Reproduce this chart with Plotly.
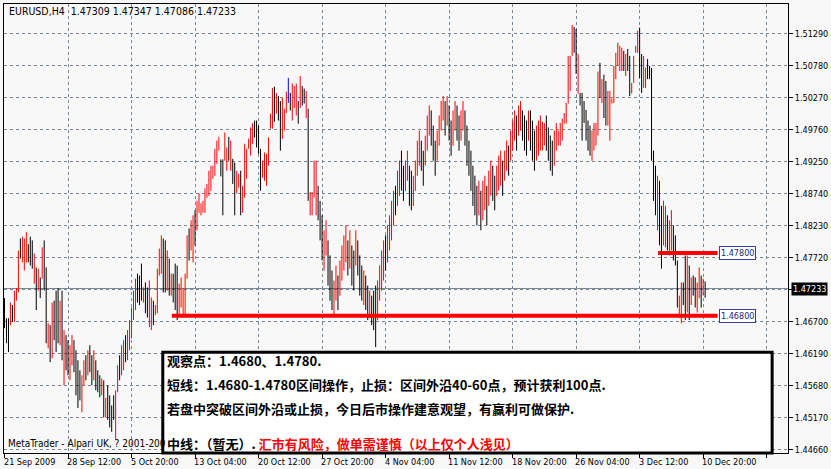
import plotly.graph_objects as go

# ---------------- data (EURUSD H4, one bar per 4h, index 0 = 21 Sep 2009 00:00) ----------------
highs = [
1.4708,1.4676,1.4676,1.4701,1.4697,1.4720,1.4724,1.4784,1.4803,1.4806,
1.4803,1.4813,1.4794,1.4806,1.4800,1.4779,1.4757,1.4755,1.4741,1.4789,
1.4800,1.4757,1.4668,1.4665,1.4701,1.4704,1.4720,1.4724,1.4704,1.4720,
1.4657,1.4649,1.4641,1.4633,1.4649,1.4641,1.4625,1.4609,1.4593,1.4585,
1.4609,1.4617,1.4625,1.4633,1.4617,1.4625,1.4609,1.4593,1.4585,1.4580,
1.4577,1.4549,1.4569,1.4553,1.4537,1.4553,1.4561,1.4601,1.4617,1.4633,
1.4641,1.4649,1.4657,1.4673,1.4693,1.4720,1.4739,1.4747,1.4744,1.4763,
1.4725,1.4733,1.4725,1.4736,1.4709,1.4704,1.4697,1.4755,1.4787,1.4808,
1.4803,1.4800,1.4784,1.4771,1.4747,1.4747,1.4763,1.4760,1.4731,1.4741,
1.4724,1.4747,1.4808,1.4819,1.4832,1.4840,1.4848,1.4863,1.4875,1.4859,
1.4863,1.4883,1.4890,1.4911,1.4919,1.4919,1.4946,1.4959,1.4965,1.4929,
1.4929,1.4972,1.4948,1.4965,1.4959,1.4930,1.4924,1.4911,1.4906,1.4911,
1.4887,1.4954,1.4946,1.4962,1.4980,1.4987,1.4991,1.4991,1.4983,1.4946,
1.4927,1.4940,1.4938,1.4964,1.5002,1.5043,1.5045,1.5035,1.5030,1.5022,
1.5027,1.5010,1.5037,1.5059,1.5035,1.5050,1.5046,1.5050,1.5022,1.5062,
1.5046,1.5042,1.5038,1.5010,1.4877,1.4877,1.4927,1.4927,1.4887,1.4863,
1.4840,1.4816,1.4832,1.4800,1.4776,1.4752,1.4736,1.4760,1.4744,1.4768,
1.4792,1.4808,1.4824,1.4800,1.4816,1.4792,1.4784,1.4816,1.4800,1.4776,
1.4760,1.4752,1.4744,1.4728,1.4720,1.4712,1.4720,1.4728,1.4736,1.4760,
1.4784,1.4800,1.4808,1.4824,1.4840,1.4863,1.4879,1.4887,1.4911,1.4927,
1.4943,1.4919,1.4927,1.4943,1.4919,1.4911,1.4903,1.4927,1.4959,1.4975,
1.4959,1.4943,1.4967,1.4999,1.5015,1.5007,1.4983,1.4959,1.4975,1.4999,
1.5022,1.5030,1.5022,1.5030,1.5015,1.4991,1.5007,1.5022,1.5015,1.4999,
1.5007,1.5022,1.5007,1.4983,1.4959,1.4943,1.4919,1.4903,1.4887,1.4895,
1.4879,1.4895,1.4903,1.4887,1.4911,1.4927,1.4919,1.4903,1.4919,1.4935,
1.4943,1.4927,1.4943,1.4959,1.4951,1.4975,1.4991,1.5007,1.4999,1.5015,
1.5022,1.5007,1.4999,1.4991,1.5007,1.5007,1.4991,1.4975,1.4983,1.4991,
1.4999,1.4989,1.4987,1.4999,1.4980,1.4967,1.4959,1.4975,1.4987,1.4975,
1.4987,1.4994,1.5003,1.5019,1.5094,1.5094,1.5143,1.5140,1.5137,1.5097,
1.5035,1.5035,1.5022,1.5008,1.4991,1.4983,1.4975,1.4987,1.4987,1.5069,
1.5083,1.5057,1.5064,1.5054,1.5038,1.5038,1.5026,1.5078,1.5099,1.5115,
1.5110,1.5107,1.5102,1.5097,1.5105,1.5094,1.5051,1.5094,1.5110,1.5134,
1.5139,1.5097,1.5094,1.5075,1.5089,1.5078,1.5075,1.4943,1.4919,1.4903,
1.4895,1.4855,1.4863,1.4855,1.4840,1.4832,1.4848,1.4824,1.4808,1.4768,
1.4712,1.4733,1.4733,1.4776,1.4776,1.4760,1.4741,1.4744,1.4741,1.4733,
1.4757,1.4744,1.4739,1.47347]

lows = [
1.4660,1.4636,1.4622,1.4665,1.4670,1.4670,1.4704,1.4717,1.4771,1.4765,
1.4752,1.4765,1.4765,1.4760,1.4755,1.4731,1.4689,1.4720,1.4708,1.4739,
1.4720,1.4636,1.4628,1.4606,1.4612,1.4641,1.4622,1.4636,1.4633,1.4609,
1.4569,1.4593,1.4585,1.4577,1.4601,1.4590,1.4553,1.4533,1.4545,1.4526,
1.4569,1.4577,1.4585,1.4590,1.4569,1.4577,1.4561,1.4558,1.4550,1.4553,
1.4518,1.4518,1.4514,1.4502,1.4495,1.4514,1.4482,1.4558,1.4577,1.4585,
1.4593,1.4606,1.4609,1.4625,1.4644,1.4673,1.4689,1.4701,1.4697,1.4704,
1.4701,1.4684,1.4677,1.4662,1.4657,1.4665,1.4681,1.4684,1.4744,1.4747,
1.4717,1.4717,1.4720,1.4712,1.4712,1.4701,1.4689,1.4673,1.4677,1.4693,
1.4681,1.4681,1.4739,1.4768,1.4784,1.4765,1.4792,1.4816,1.4844,1.4840,
1.4844,1.4844,1.4868,1.4871,1.4879,1.4898,1.4903,1.4922,1.4943,1.4902,
1.4840,1.4927,1.4911,1.4927,1.4911,1.4890,1.4840,1.4875,1.4884,1.4840,
1.4844,1.4868,1.4898,1.4946,1.4935,1.4954,1.4964,1.4948,1.4938,1.4879,
1.4900,1.4895,1.4887,1.4919,1.4978,1.4978,1.4989,1.5002,1.4991,1.4943,
1.4962,1.4975,1.5003,1.5019,1.5007,1.4991,1.5011,1.4999,1.4986,1.5011,
1.5015,1.5018,1.4995,1.4863,1.4840,1.4840,1.4868,1.4840,1.4832,1.4800,
1.4768,1.4752,1.4776,1.4728,1.4704,1.4689,1.4681,1.4704,1.4689,1.4712,
1.4736,1.4752,1.4765,1.4744,1.4755,1.4728,1.4720,1.4760,1.4744,1.4712,
1.4704,1.4697,1.4689,1.4673,1.4676,1.4665,1.4657,1.4630,1.4673,1.4704,
1.4720,1.4736,1.4752,1.4765,1.4784,1.4800,1.4824,1.4840,1.4855,1.4871,
1.4879,1.4863,1.4879,1.4895,1.4855,1.4848,1.4855,1.4879,1.4903,1.4919,
1.4911,1.4887,1.4919,1.4943,1.4967,1.4951,1.4927,1.4903,1.4927,1.4951,
1.4975,1.4991,1.4967,1.4983,1.4959,1.4935,1.4951,1.4975,1.4959,1.4943,
1.4959,1.4975,1.4951,1.4919,1.4903,1.4879,1.4855,1.4840,1.4824,1.4840,
1.4816,1.4832,1.4848,1.4824,1.4855,1.4871,1.4863,1.4848,1.4871,1.4879,
1.4887,1.4871,1.4895,1.4911,1.4903,1.4927,1.4943,1.4959,1.4943,1.4967,
1.4975,1.4959,1.4943,1.4935,1.4959,1.4943,1.4927,1.4911,1.4927,1.4935,
1.4943,1.4943,1.4951,1.4943,1.4927,1.4911,1.4903,1.4919,1.4943,1.4951,
1.4951,1.4959,1.4986,1.4986,1.5018,1.5038,1.5094,1.5099,1.5065,1.5034,
1.5015,1.4959,1.4987,1.4959,1.4943,1.4935,1.4927,1.4943,1.4951,1.4967,
1.5027,1.5019,1.4995,1.4983,1.4983,1.4959,1.5018,1.5019,1.5057,1.5078,
1.5070,1.5070,1.5070,1.5062,1.5070,1.5030,1.5034,1.5051,1.5099,1.5099,
1.5059,1.5035,1.5043,1.5043,1.5057,1.5057,1.4927,1.4863,1.4840,1.4816,
1.4792,1.4755,1.4792,1.4789,1.4784,1.4776,1.4784,1.4768,1.4760,1.4693,
1.4677,1.4668,1.4697,1.4673,1.4685,1.4673,1.4697,1.4712,1.4693,1.4685,
1.4708,1.4693,1.4712,1.47086]

# 1 = up bar (red), 0 = down bar (black), 2 = highlighted bar (blue)
directions = [
0,0,0,1,0,1,1,1,0,1, 1,1,0,0,0,1,0,1,0,1, 0,0,1,0,1,0,0,0,1,0,
1,0,0,1,1,0,0,0,0,1, 1,0,1,0,0,1,0,0,0,1, 0,1,0,0,0,0,1,1,0,1,
1,0,1,1,1,1,1,0,0,0, 1,0,0,1,1,0,1,1,1,1, 0,0,1,0,1,0,0,0,1,1,
1,1,1,0,1,1,0,1,1,1, 1,1,1,1,1,1,1,1,1,0, 0,1,1,0,1,0,0,1,1,0,
1,1,1,1,1,1,0,0,0,0, 1,1,1,1,1,1,0,1,0,0, 1,1,1,2,0,1,1,1,0,1,
0,0,1,0,1,1,1,1,0,0, 0,1,1,0,0,0,1,1,0,1, 1,1,1,0,1,0,0,1,0,0,
0,1,0,0,1,0,0,0,1,1, 1,1,0,1,1,1,1,0,1,1, 0,0,1,1,0,0,1,1,1,1,
0,0,1,1,1,0,0,0,1,1, 1,1,0,1,0,0,1,1,0,0, 1,1,0,0,0,0,0,0,0,1,
0,1,1,0,1,1,0,0,1,1, 1,0,1,1,0,1,1,1,0,1, 1,0,0,0,1,0,0,0,1,1,
1,1,1,0,0,0,0,1,1,1, 1,1,1,1,1,1,1,0,0,1, 0,0,0,0,0,0,1,1,1,1,
0,1,0,0,1,1,1,1,1,1, 1,1,0,1,0,0,1,1,1,1, 0,0,1,1,0,0,0,0,0,1,
0,0,1,1,0,1,1,0,0,0, 1,1,0,0,1,0,1,0,0,1, 1,0,1,0]

x_tick_index = [0, 32, 64, 96, 128, 160, 192, 224, 256, 288, 320, 352]
x_tick_labels = ["21 Sep 2009", "28 Sep 12:00", "5 Oct 20:00", "13 Oct 04:00",
                 "20 Oct 12:00", "27 Oct 20:00", "4 Nov 04:00", "11 Nov 12:00",
                 "18 Nov 20:00", "26 Nov 04:00", "3 Dec 12:00", "10 Dec 20:00"]
x_grid_index = [0, 32, 64, 96, 128, 160, 192, 224, 256, 288, 320, 352, 384]
y_tick_values = [1.44660, 1.45170, 1.45680, 1.46190, 1.46700, 1.47210, 1.47720,
                 1.48230, 1.48740, 1.49250, 1.49760, 1.50270, 1.50780, 1.51290]

last_ohlc = [1.47309, 1.47347, 1.47086, 1.47233]
levels = [1.4780, 1.4680]
level_start = [329.3, 84.3]
level_end = [359.3, 359.3]

text_lines = [
    "观察点：1.4680、1.4780.",
    "短线：1.4680-1.4780区间操作，止损：区间外沿40-60点，预计获利100点.",
    "若盘中突破区间外沿或止损，今日后市操作建意观望，有赢利可做保护.",
]
text_last_black = "中线：（暂无）."
text_last_red = "汇市有风险，做单需谨慎（以上仅个人浅见）"

# ---------------- figure ----------------
colors = {0: "#000000", 1: "#FF0000", 2: "#0000FF"}
fig = go.Figure()
for d in (0, 1, 2):
    xs, ys = [], []
    for i, (h, l, dd) in enumerate(zip(highs, lows, directions)):
        if dd == d:
            xs += [i, i, None]
            ys += [l, h, None]
    fig.add_trace(go.Scatter(x=xs, y=ys, mode="lines",
                             line=dict(color=colors[d], width=1),
                             hoverinfo="skip", showlegend=False))

GRID = "#778899"
SMALL = "DejaVu Sans Condensed, Liberation Sans, Arial"
TICKFONT = dict(family=SMALL, size=9, color="#000000")

fig.update_layout(
    width=831, height=469,
    margin=dict(l=3, r=38, t=3, b=16),
    paper_bgcolor="#F8F8F8", plot_bgcolor="#F8F8F8",
    showlegend=False, hovermode=False,
    xaxis=dict(range=[-0.25, 394.75], tickvals=x_grid_index,
               ticktext=[""] * len(x_grid_index),
               showgrid=True, gridcolor=GRID, griddash="3px,3px", gridwidth=1,
               zeroline=False, showline=True, linecolor="#000000", linewidth=1,
               mirror=True, ticks="outside", ticklen=4, tickcolor="#000000",
               fixedrange=True),
    yaxis=dict(range=[1.44612, 1.51767], side="right", tickvals=y_tick_values,
               ticktext=["%.5f" % v if abs(v - 1.4721) > 1e-6 else "" for v in y_tick_values],
               showgrid=True, gridcolor=GRID, griddash="3px,3px", gridwidth=1,
               zeroline=False, showline=True, linecolor="#000000", linewidth=1,
               mirror=True, ticks="outside", ticklen=4, tickcolor="#000000",
               tickfont=TICKFONT, fixedrange=True),
)

# current price line
fig.add_shape(type="line", xref="paper", x0=0, x1=1, yref="y",
              y0=last_ohlc[3], y1=last_ohlc[3],
              line=dict(color=GRID, width=1), layer="below")

# horizontal level lines
for lv, xs0, xs1 in zip(levels, level_start, level_end):
    fig.add_shape(type="line", xref="x", yref="y", x0=xs0, x1=xs1, y0=lv, y1=lv,
                  line=dict(color="#FF0000", width=4), layer="above")
    fig.add_annotation(x=xs1, y=lv, xref="x", yref="y", xanchor="left",
                       yanchor="middle", xshift=1, text="%.5f" % lv, showarrow=False,
                       font=dict(family=SMALL, size=9, color="#1E1E78"),
                       bgcolor="#FFFFFF", bordercolor="#3C3C96", borderwidth=1,
                       borderpad=1)

# text box
fig.add_shape(type="rect", xref="paper", yref="paper",
              x0=(163 - 3) / 790, x1=(777 - 3) / 790, y0=0.0, y1=1 - (352 - 3) / 450,
              line=dict(color="#000000", width=3), fillcolor="#FFFFFF", layer="above")

CJK = "Noto Sans CJK SC, Noto Sans CJK JP, sans-serif"
line_y = [360, 384, 408, 443]
for txt, yy in zip(text_lines, line_y[:3]):
    fig.add_annotation(xref="paper", yref="paper", x=(165 - 3) / 790,
                       y=1 - (yy - 3) / 450, xanchor="left", yanchor="middle",
                       text="<b>%s</b>" % txt, showarrow=False,
                       font=dict(family=CJK, size=13, color="#000000"))
fig.add_annotation(xref="paper", yref="paper", x=(165 - 3) / 790,
                   y=1 - (line_y[3] - 3) / 450, xanchor="left", yanchor="middle",
                   text="<b>%s <span style='color:#FF0000'>%s</span></b>" % (text_last_black, text_last_red),
                   showarrow=False, font=dict(family=CJK, size=13, color="#000000"))

# top-left title
fig.add_annotation(xref="paper", yref="paper", x=3 / 790, y=1 - (10 - 3) / 450,
                   xanchor="left", yanchor="middle", showarrow=False,
                   text="EURUSD,H4  %.5f %.5f %.5f %.5f" % tuple(last_ohlc),
                   font=dict(family=SMALL, size=10.5, color="#000000"))

# bottom-left copyright (cut by the box)
fig.add_annotation(xref="paper", yref="paper", x=2 / 790, y=1 - (443 - 3) / 450,
                   xanchor="left", yanchor="middle", showarrow=False,
                   text="MetaTrader - Alpari UK, ? 2001-200",
                   font=dict(family=SMALL, size=10, color="#000000"))

# current price label on right axis
fig.add_annotation(xref="paper", yref="y", x=1, y=last_ohlc[3], xanchor="left",
                   yanchor="middle", xshift=3, showarrow=False,
                   text="%.5f" % last_ohlc[3], bgcolor="#000000", borderpad=1,
                   font=dict(family=SMALL, size=9, color="#FFFFFF"))

# x labels, left aligned at the tick
for idx, lab in zip(x_tick_index, x_tick_labels):
    fig.add_annotation(x=idx, xref="x", y=0, yref="paper", xanchor="left",
                       yanchor="top", yshift=-2, xshift=-3, text=lab, showarrow=False,
                       font=TICKFONT)

fig.write_html("out.html", config={"displayModeBar": False},
               post_script="document.body.style.margin='0px';")
